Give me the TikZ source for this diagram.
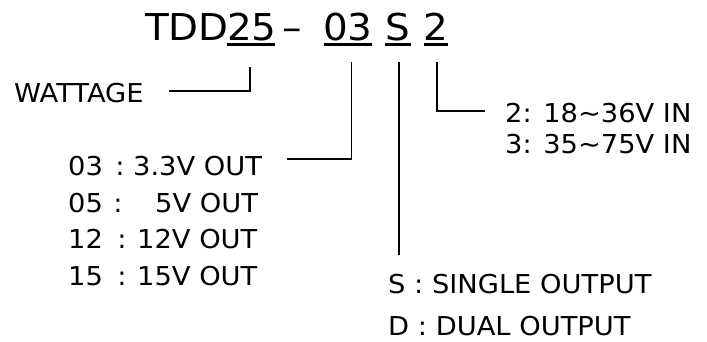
\documentclass[tikz,border=0pt]{standalone}
\usepackage{fontspec}
\setmainfont[FakeStretch=1.05]{DejaVu Sans}
\begin{document}
\begin{tikzpicture}[x=1pt,y=-1pt,
  big/.style={anchor=base west,inner sep=0pt,font=\fontsize{37}{44}\selectfont},
  lbl/.style={anchor=base west,inner sep=0pt,font=\fontsize{26}{31}\selectfont},
  colon/.style={anchor=base,inner sep=0pt,font=\fontsize{26}{31}\selectfont},
  uline/.style={line width=2.6pt},
  conn/.style={line width=1.6pt}]
\useasboundingbox (0,0) rectangle (707,341);
% title pieces
\node[big] (tdd) at (145,40) {TDD};
\node[big] (n25) at (227,40) {25};
\node[big] (dash) at (282,40) {–};
\node[big] (n03) at (323,40) {03};
\node[big] (nS) at (385,40) {S};
\node[big] (n2) at (423,40) {2};
% underlines
\draw[uline] (227,44.5) -- (275,44.5);
\draw[uline] (324,44.5) -- (372,44.5);
\draw[uline] (385,44.5) -- (411,44.5);
\draw[uline] (424,44.5) -- (448,44.5);
% labels
\node[lbl] (watt) at (14,102) {WATTAGE};
\node[lbl] (o1n) at (68,175) {03};
\node[colon] (o1c) at (120,175) {:};
\node[lbl] (o1v) at (133,175) {3.3V OUT};
\node[lbl] (o2n) at (68,212) {05};
\node[colon] (o2c) at (118,212) {:};
\node[lbl] (o2v) at (155,212) {5V OUT};
\node[lbl] (o3n) at (68,248) {12};
\node[colon] (o3c) at (122,248) {:};
\node[lbl] (o3v) at (137,248) {12V OUT};
\node[lbl] (o4n) at (68,285) {15};
\node[colon] (o4c) at (122,285) {:};
\node[lbl] (o4v) at (137,285) {15V OUT};
\node[lbl] (in1) at (505,122) {2: 18\char"007E 36V IN};
\node[lbl] (in2) at (505,153) {3: 35\char"007E 75V IN};
\node[lbl] (sgl) at (388,293) {S : SINGLE OUTPUT};
\node[lbl] (dul) at (388,335) {D : DUAL OUTPUT};
% connector ends
\coordinate (t25) at (250,67);
\coordinate (e25) at (169,91);
\coordinate (t03) at (351.5,62);
\coordinate (e03) at (287,159);
\coordinate (tS) at (399,62);
\coordinate (eS) at (399,255);
\coordinate (t2) at (437,62);
\coordinate (e2) at (485,111);
\draw[conn] (t25) |- (e25);
\draw[conn] (t03) |- (e03);
\draw[conn] (tS) -- (eS);
\draw[conn] (t2) |- (e2);
\end{tikzpicture}
\end{document}
